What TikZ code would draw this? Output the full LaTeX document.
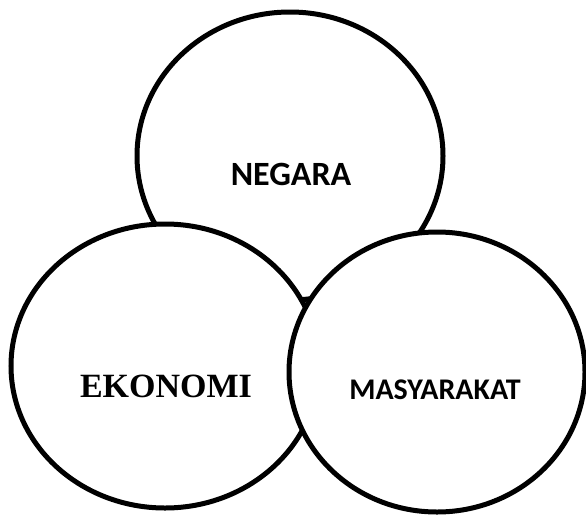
\documentclass[tikz,border=0pt]{standalone}
\usepackage{fontspec}
\setmainfont{Liberation Serif}
\newfontfamily\calib{Carlito}
\usetikzlibrary{shapes.geometric}
\begin{document}
\begin{tikzpicture}[x=1pt,y=-1pt,
  ring/.style={ellipse,draw=black,fill=white,line width=5pt,inner sep=0pt},
  lbl/.style={inner sep=0pt,text=black}]
\useasboundingbox (0,0) rectangle (586,517);
\node[ring,minimum width=306pt,minimum height=288pt] (neg) at (290,156) {};
\node[ring,minimum width=308pt,minimum height=284pt] (eko) at (165,366) {};
\node[ring,minimum width=296pt,minimum height=280pt] (mas) at (437,372) {};
\node[lbl,font=\calib\bfseries\fontsize{34}{34}\selectfont] (tneg) at (291,174) {NEGARA};
\node[lbl,font=\bfseries\fontsize{34}{34}\selectfont] (teko) at (166,386) {EKONOMI};
\node[lbl,font=\calib\bfseries\fontsize{30}{30}\selectfont] (tmas) at (435,390) {MASYARAKAT};
\end{tikzpicture}
\end{document}
